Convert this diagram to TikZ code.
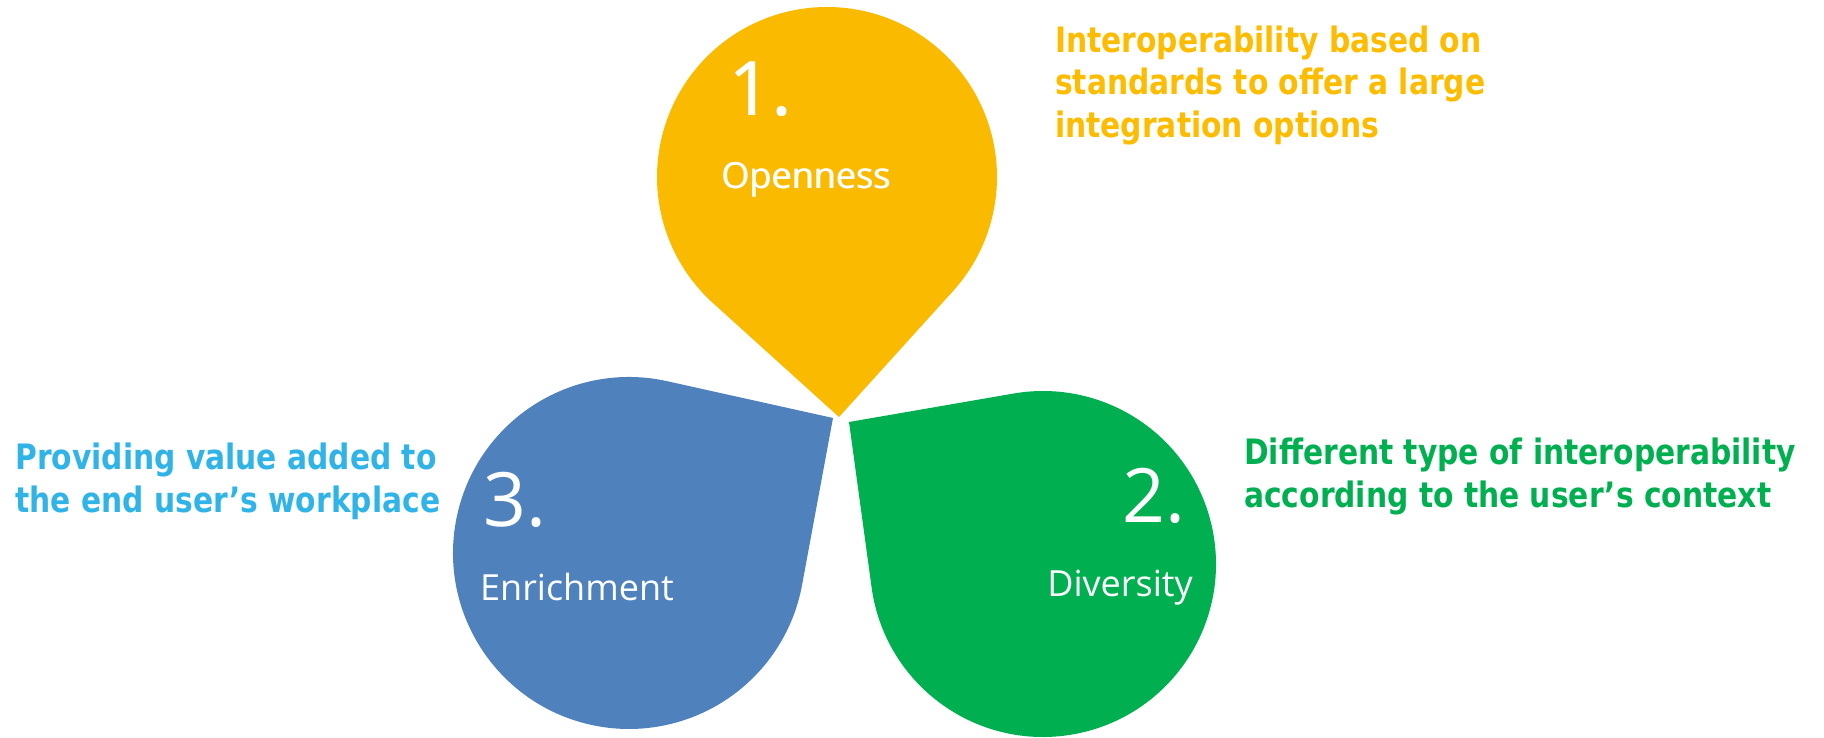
\documentclass[tikz,border=0pt]{standalone}
\usepackage{fontspec}
\setmainfont{Open Sans}
\newfontfamily\capfont[FakeStretch=0.85]{DejaVu Sans}
\newcommand\heavytxt[1]{\rlap{#1}\kern0.9pt#1}
\definecolor{yelC}{HTML}{FABA00}
\definecolor{yelT}{HTML}{FDBC00}
\definecolor{bluC}{HTML}{4F81BD}
\definecolor{bluT}{HTML}{30B4E8}
\definecolor{grnC}{HTML}{00B050}
\definecolor{grnT}{HTML}{00B050}
\begin{document}
\begin{tikzpicture}[x=1pt,y=1pt,
  numlbl/.style={text=white,inner sep=0pt,anchor=base,font=\fontsize{75}{80}\selectfont},
  namelbl/.style={text=white,inner sep=0pt,anchor=base,font=\fontsize{36}{40}\selectfont},
  caplbl/.style={inner sep=0pt,anchor=base west,font=\capfont\bfseries\fontsize{35}{42}\selectfont}]
\useasboundingbox (0,0) rectangle (1824,737);
% centres and tips
\coordinate (cY) at (827,560);
\coordinate (tY) at (839,320);
\coordinate (cB) at (629,184);
\coordinate (tB) at (833,319);
\coordinate (cG) at (1043,173);
\coordinate (tG) at (849,315);
% teardrops
\fill[yelC] (cY) ++(-42.17:170pt) arc[start angle=-42.17,end angle=227.89,radius=170pt] -- (tY) -- cycle;
\fill[bluC] (cB) ++(77.47:176pt) arc[start angle=77.47,end angle=349.51,radius=176pt] -- (tB) -- cycle;
\fill[grnC] (cG) ++(187.78:173pt) arc[start angle=187.78,end angle=459.82,radius=173pt] -- (tG) -- cycle;
% labels in shapes
\node[numlbl] (n1) at (760,621) {\heavytxt{1.}};
\node[namelbl] (l1) at (806,548) {\heavytxt{Openness}};
\node[numlbl] (n3) at (515,210) {3.};
\node[namelbl] (l3) at (577,136) {Enrichment};
\node[numlbl] (n2) at (1154,214) {2.};
\node[namelbl] (l2) at (1120,140) {Diversity};
% captions
\node[caplbl,text=yelT] (y1) at (1055,684.7) {Interoperability based on};
\node[caplbl,text=yelT] (y2) at (1055,642.2) {standards to offer a large};
\node[caplbl,text=yelT] (y3) at (1055,599.7) {integration options};
\node[caplbl,text=grnT] (g1) at (1244,272) {Different type of interoperability};
\node[caplbl,text=grnT] (g2) at (1244,229.3) {according to the user’s context};
\node[caplbl,text=bluT] (b1) at (15,267) {Providing value added to};
\node[caplbl,text=bluT] (b2) at (15,224.3) {the end user’s workplace};
\end{tikzpicture}
\end{document}
